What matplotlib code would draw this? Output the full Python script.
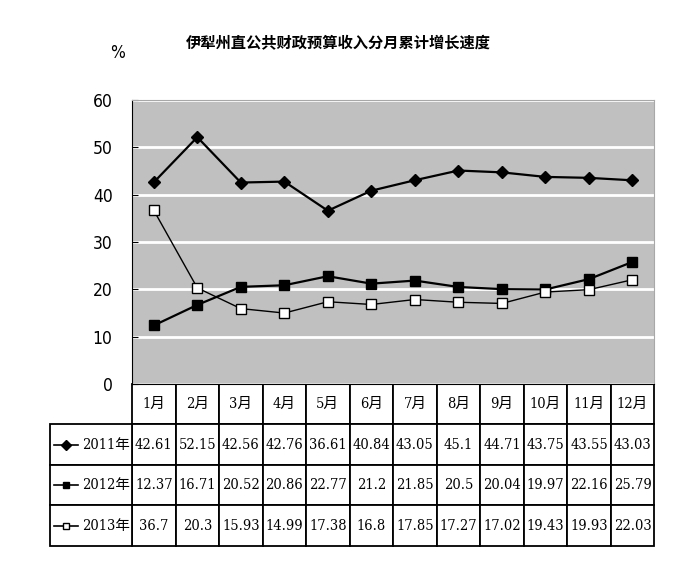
import numpy as np
import matplotlib
matplotlib.use('Agg')
import matplotlib.pyplot as plt

plt.rcParams['font.family'] = ['DejaVu Sans', 'Noto Sans CJK SC']
plt.rcParams['font.stretch'] = 'condensed'

# data
months = ['1月', '2月', '3月', '4月', '5月', '6月', '7月', '8月', '9月', '10月', '11月', '12月']
y2011 = [42.61, 52.15, 42.56, 42.76, 36.61, 40.84, 43.05, 45.1, 44.71, 43.75, 43.55, 43.03]
y2012 = [12.37, 16.71, 20.52, 20.86, 22.77, 21.2, 21.85, 20.5, 20.04, 19.97, 22.16, 25.79]
y2013 = [36.7, 20.3, 15.93, 14.99, 17.38, 16.8, 17.85, 17.27, 17.02, 19.43, 19.93, 22.03]
series_names = ['2011年', '2012年', '2013年']
cell_strings = [
    ['42.61', '52.15', '42.56', '42.76', '36.61', '40.84', '43.05', '45.1', '44.71', '43.75', '43.55', '43.03'],
    ['12.37', '16.71', '20.52', '20.86', '22.77', '21.2', '21.85', '20.5', '20.04', '19.97', '22.16', '25.79'],
    ['36.7', '20.3', '15.93', '14.99', '17.38', '16.8', '17.85', '17.27', '17.02', '19.43', '19.93', '22.03'],
]

fig = plt.figure(figsize=(7, 5.74), dpi=100)
ax = fig.add_axes([0.1886, 0.331, 0.746, 0.4948])
ax.set_facecolor('#c0c0c0')

x = np.arange(len(months))
ax.plot(x, y2011, color='black', lw=1.6, marker='D', ms=6.5, mfc='black', zorder=3)
ax.plot(x, y2012, color='black', lw=1.6, marker='s', ms=6.5, mfc='black', zorder=3)
ax.plot(x, y2013, color='black', lw=1.0, marker='s', ms=6.5, mfc='white', mec='black', zorder=3)

ax.set_xlim(-0.5, 11.5)
ax.set_ylim(0, 60)
ax.set_yticks(range(0, 61, 10))
ax.set_xticks([])
ax.yaxis.grid(True, color='white', lw=2)
ax.set_axisbelow(True)
for s in ['top', 'right']:
    ax.spines[s].set_color('#a8a8a8')
ax.spines['left'].set_color('black')
ax.spines['bottom'].set_color('black')
ax.tick_params(axis='y', length=4, direction='in', labelsize=12.5, pad=14)

# table under the axes
h_r = 0.570 / 4
tbl = ax.table(cellText=cell_strings, colLabels=months, cellLoc='center',
               bbox=[0, -4 * h_r, 1, 4 * h_r])
tbl.auto_set_font_size(False)
tbl.set_fontsize(10.5)
for cell in tbl.get_celld().values():
    cell.set_linewidth(1.3)
    cell.get_text().set_family(['DejaVu Serif', 'Noto Sans CJK SC'])

lab = ax.table(cellText=[[n] for n in series_names], cellLoc='right',
               bbox=[-0.157, -4 * h_r, 0.157, 3 * h_r])
lab.auto_set_font_size(False)
lab.set_fontsize(10.5)
for cell in lab.get_celld().values():
    cell.set_linewidth(1.3)
    cell.PAD = 0.02
    cell.get_text().set_family(['DejaVu Serif', 'Noto Sans CJK SC'])

# legend keys in the row labels
keys = [('D', 'black'), ('s', 'black'), ('s', 'white')]
for i, (m, fc) in enumerate(keys):
    yc = -(i + 1.5) * h_r
    ax.plot([-0.150, -0.103], [yc, yc], color='black', lw=1.2,
            transform=ax.transAxes, clip_on=False)
    ax.plot([-0.1265], [yc], marker=m, ms=5 if m == 'D' else 4.5, mfc=fc, mec='black',
            transform=ax.transAxes, clip_on=False)

fig.text(0.484, 0.925, '伊犁州直公共财政预算收入分月累计增长速度', ha='center', va='center',
         fontsize=11, fontweight='bold', family=['Noto Sans CJK SC'])
fig.text(0.168, 0.907, '%', ha='center', va='center', fontsize=12.5)

fig.savefig('out.png', dpi=100)
